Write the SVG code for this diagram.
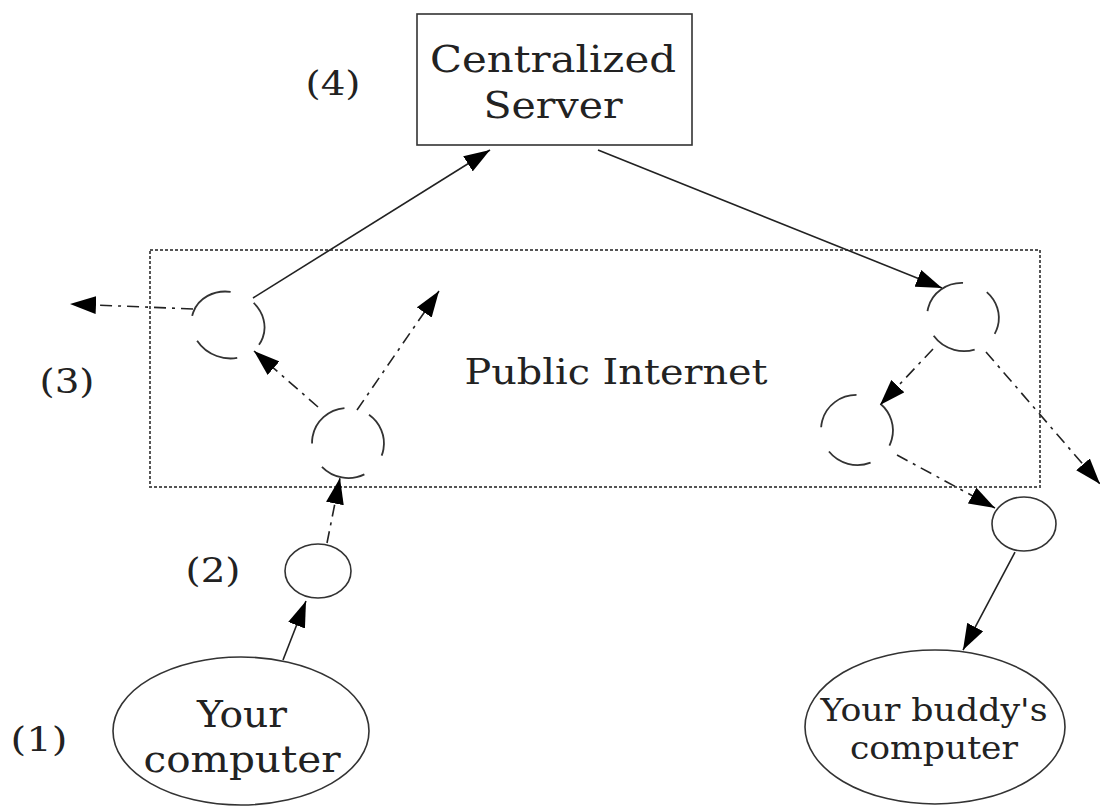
<svg xmlns="http://www.w3.org/2000/svg" width="1100" height="810" viewBox="0 0 1100 810">
<style>
text{font-family:"DejaVu Serif","Liberation Serif",serif;fill:#222;text-anchor:middle}
.node{fill:none;stroke:#333;stroke-width:1.6}
.hop{fill:none;stroke:#333;stroke-width:1.8;stroke-dasharray:46 26}
.solid{fill:none;stroke:#222;stroke-width:1.6;marker-end:url(#ah)}
.dash{fill:none;stroke:#222;stroke-width:1.6;stroke-dasharray:12 6 3 6;marker-end:url(#ah)}
</style>
<defs>
<marker id="ah" viewBox="0 0 26 18" refX="26" refY="9" markerWidth="26" markerHeight="18" markerUnits="userSpaceOnUse" orient="auto">
<path d="M0,0 L26,9 L0,18 z" fill="#000"/>
</marker>
</defs>
<rect width="1100" height="810" fill="#fff"/>
<g id="internet">
<rect x="150" y="250" width="890" height="237" fill="none" stroke="#555" stroke-width="2" stroke-dasharray="3 2"/>
<text x="616" y="384" font-size="36" textLength="303" lengthAdjust="spacingAndGlyphs">Public Internet</text>
</g>
<g id="server">
<rect class="node" x="417" y="14" width="275" height="131"/>
<text x="553" y="72" font-size="38" textLength="246" lengthAdjust="spacingAndGlyphs">Centralized</text>
<text x="553" y="118" font-size="38" textLength="139" lengthAdjust="spacingAndGlyphs">Server</text>
</g>
<g id="label4"><text x="333" y="95" font-size="34" textLength="55" lengthAdjust="spacingAndGlyphs">(4)</text></g>
<g id="label3"><text x="67" y="393" font-size="34" textLength="55" lengthAdjust="spacingAndGlyphs">(3)</text></g>
<g id="label2"><text x="213" y="582" font-size="34" textLength="55" lengthAdjust="spacingAndGlyphs">(2)</text></g>
<g id="label1"><text x="39" y="751" font-size="34" textLength="57" lengthAdjust="spacingAndGlyphs">(1)</text></g>
<g id="hopL1"><ellipse class="hop" cx="228" cy="325" rx="37" ry="33" transform="rotate(200 228 325)"/></g>
<g id="hopL2"><ellipse class="hop" cx="348" cy="443" rx="36" ry="35" transform="rotate(190 348 443)"/></g>
<g id="hopR1"><ellipse class="hop" cx="963" cy="317" rx="36" ry="34" transform="rotate(195 963 317)"/></g>
<g id="hopR2"><ellipse class="hop" cx="857" cy="430" rx="36" ry="35" transform="rotate(195 857 430)"/></g>
<g id="nat1"><ellipse class="node" cx="318" cy="571" rx="33" ry="27"/></g>
<g id="nat2"><ellipse class="node" cx="1024" cy="524" rx="32" ry="27"/></g>
<g id="you">
<ellipse class="node" cx="241" cy="731" rx="128" ry="74"/>
<text x="242" y="727" font-size="38" textLength="90" lengthAdjust="spacingAndGlyphs">Your</text>
<text x="242" y="772" font-size="38" textLength="197" lengthAdjust="spacingAndGlyphs">computer</text>
</g>
<g id="buddy">
<ellipse class="node" cx="935" cy="727" rx="130" ry="77"/>
<text x="934" y="721" font-size="32" textLength="227" lengthAdjust="spacingAndGlyphs">Your buddy's</text>
<text x="934" y="759" font-size="32" textLength="168" lengthAdjust="spacingAndGlyphs">computer</text>
</g>
<g id="connectors">
<path class="solid" d="M283,660 L306,601"/>
<path class="dash" d="M327,543 L340,478"/>
<path class="dash" d="M318,407 L254,351"/>
<path class="dash" d="M357,410 L439,291"/>
<path class="solid" d="M253,298 L490,150"/>
<path class="dash" d="M193,309 L70,304"/>
<path class="solid" d="M598,150 L942,288"/>
<path class="dash" d="M933,349 L880,405"/>
<path class="dash" d="M986,352 L1100,484"/>
<path class="dash" d="M897,455 L995,508"/>
<path class="solid" d="M1015,552 L963,650"/>
</g>
</svg>
